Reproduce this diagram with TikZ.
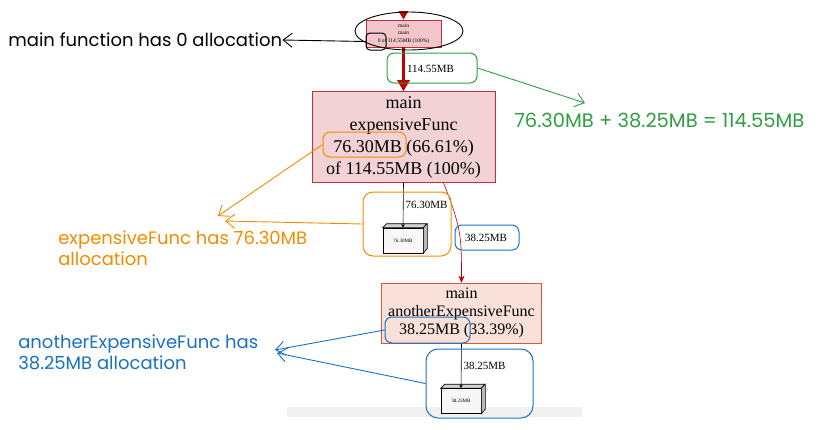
\documentclass[tikz,border=0pt]{standalone}
\usepackage{fontspec}
\setmainfont{Liberation Serif}
\newfontfamily\handfont{Poppins}
\usetikzlibrary{arrows.meta, positioning}

\definecolor{fnred}{HTML}{C0303A}
\definecolor{fnpink}{HTML}{F3D2D5}
\definecolor{toppink}{HTML}{F2C6CA}
\definecolor{fnorange}{HTML}{D9573A}
\definecolor{peach}{HTML}{F9E1DA}
\definecolor{arrred}{HTML}{C00000}
\definecolor{notegreen}{HTML}{2F9E44}
\definecolor{noteorange}{HTML}{F08C00}
\definecolor{noteblue}{HTML}{1971C2}

\tikzset{
  fnbox/.style={draw=fnred, fill=fnpink, align=center, inner sep=0pt},
  leafbox/.style={draw, fill=gray!6, minimum width=40pt, minimum height=25pt,
    inner sep=0pt, font=\fontsize{5}{6}\selectfont},
  hlbox/.style={draw, rounded corners=7pt, line width=1pt, inner sep=0pt},
  note/.style={font=\handfont\fontsize{18}{21}\selectfont, align=left, inner sep=0pt},
  noteline/.style={line width=0.9pt, -{Straight Barb[length=9pt,width=14pt]}},
  edgelbl/.style={font=\fontsize{11}{12}\selectfont, inner sep=2pt, text=black}
}

\begin{document}
\begin{tikzpicture}[x=1pt, y=-1pt, >=stealth, semithick]
\useasboundingbox (0,0) rectangle (828,429);
% bottom of the screenshot
\fill[gray!12] (287,407) rectangle (582,417);

% call graph
\node[fnbox, fill=toppink, minimum width=75pt, minimum height=27pt,
  font=\fontsize{5.5}{7.5}\selectfont] (root) at (403.5,33.5) {main\\main\\0 of 114.55MB (100\%)};
\node[fnbox, minimum width=183pt, minimum height=91pt,
  font=\fontsize{18}{22}\selectfont] (exp) at (403.5,137) {main\\expensiveFunc\\76.30MB (66.61\%)\\of 114.55MB (100\%)};
\node[fnbox, fill=peach, draw=fnorange, minimum width=160pt, minimum height=60pt,
  font=\fontsize{16}{18}\selectfont] (another) at (461.5,313) {main\\anotherExpensiveFunc\\38.25MB (33.39\%)};
\node[leafbox] (leafA) at (403,240.5) {76.30MB};
\node[leafbox] (leafB) at (461,401) {38.25MB};
\foreach \leaf in {leafA, leafB} {
  \draw[fill=gray!35] (\leaf.north west) -- ++(4,-4) -- ++(40,0) -- (\leaf.north east) -- cycle;
  \draw[fill=gray!55] (\leaf.north east) -- ++(4,-4) -- ++(0,25) -- (\leaf.south east) -- cycle;
}

% incoming edge tip
\fill[arrred] (398.5,11) -- (408.5,11) -- (403.5,19.5) -- cycle;
\draw[arrred, line width=3pt, -{Triangle[length=11pt,width=12pt]}] (root) -- (exp)
  node[midway, right, edgelbl] (lblTop) {114.55MB};
\draw[->] (exp.south) -- (leafA.north) node[midway, right, edgelbl] (lblA) {76.30MB};
\draw[-{Stealth[length=7pt,width=6pt]}, arrred] ([xshift=40pt]exp.south) .. controls +(18,45) and +(0,-45) .. (another.north);
\node[edgelbl] (lblB) at (486,237.5) {38.25MB};
\draw[->] (another.south) -- (leafB.north) node[midway, right, edgelbl] (lblC) {38.25MB};

% annotations
\draw[line width=0.9pt] (409,31) ellipse [x radius=54pt, y radius=19pt];
\node[hlbox, rounded corners=4pt, minimum width=20pt, minimum height=17pt] (zeroBox) at (376,41.5) {};
\node[hlbox, notegreen, minimum width=90pt, minimum height=30pt] (sumBox) at (432,68) {};
\node[hlbox, noteorange, minimum width=83pt, minimum height=25pt] (pctBox) at (364.5,144.5) {};
\node[hlbox, noteorange, rounded corners=10pt, minimum width=88pt, minimum height=64pt] (leafBoxA) at (407,224) {};
\node[hlbox, noteblue, minimum width=64pt, minimum height=25pt] (lblBox) at (487,237.5) {};
\node[hlbox, noteblue, minimum width=85pt, minimum height=26pt] (pctBoxB) at (427.5,330) {};
\node[hlbox, noteblue, rounded corners=12pt, minimum width=107pt, minimum height=69pt] (leafBoxB) at (479.5,383.5) {};

\node[note, anchor=west] (mainNote) at (8,40) {main function has 0 allocation};
\node[note, anchor=west, notegreen, font=\handfont\fontsize{19.5}{21}\selectfont] (sumNote) at (514,120) {76.30MB + 38.25MB = 114.55MB};
\node[note, anchor=north west, noteorange] (expNote) at (58,230) {expensiveFunc has 76.30MB\\allocation};
\node[note, anchor=north west, noteblue] (anotherNote) at (18,334) {anotherExpensiveFunc has\\38.25MB allocation};

\coordinate (sumTip) at (585,103);
\coordinate (expTipA) at (218,216);
\coordinate (expTipB) at (225,221);
\coordinate (anTipA) at (275,350);
\coordinate (anTipB) at (277,353);

\draw[noteline] (zeroBox.west) -- (mainNote.east);
\draw[noteline, notegreen] (sumBox.east) -- (sumTip);
\draw[noteline, noteorange] (pctBox.west) -- (expTipA);
\draw[noteline, noteorange] (leafBoxA.west) -- (expTipB);
\draw[noteline, noteblue] (pctBoxB.west) -- (anTipA);
\draw[noteline, noteblue] (leafBoxB.west) -- (anTipB);
\end{tikzpicture}
\end{document}
